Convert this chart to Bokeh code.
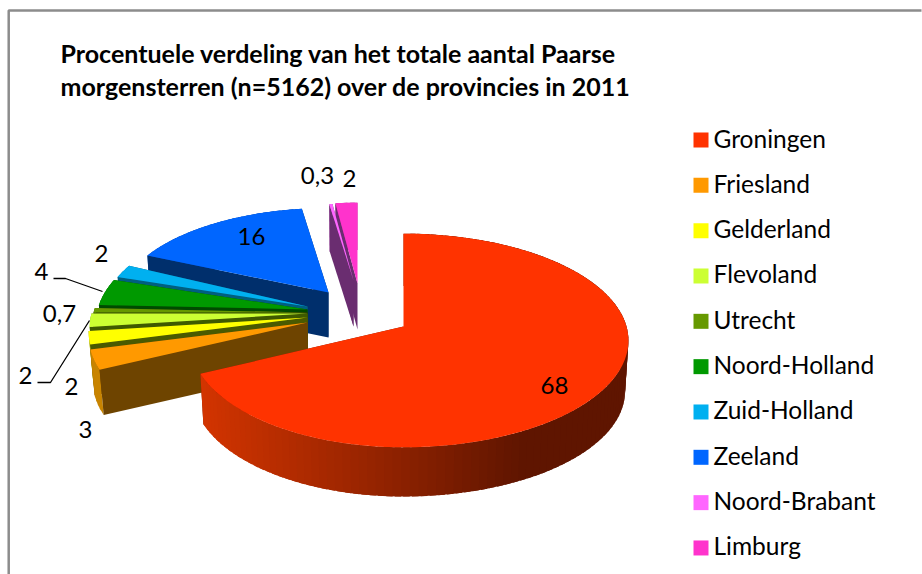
import numpy as np
from bokeh.plotting import figure
from bokeh.models import Range1d
from bokeh.core.properties import value
from bokeh.embed import file_html
from bokeh.resources import INLINE

provinces = ["Groningen", "Friesland", "Gelderland", "Flevoland", "Utrecht",
             "Noord-Holland", "Zuid-Holland", "Zeeland", "Noord-Brabant", "Limburg"]
percent = [68, 3, 2, 2, 0.7, 4, 2, 16, 0.3, 2]
value_labels = ["68", "3", "2", "2", "0,7", "4", "2", "16", "0,3", "2"]
title_lines = ["Procentuele verdeling van het totale aantal Paarse",
               "morgensterren (n=5162) over de provincies in 2011"]
top_colors = ["#ff3300", "#ff9900", "#ffff00", "#ccff33", "#669900",
              "#009900", "#00b0f0", "#0066ff", "#ff66ff", "#ff33cc"]
cut_colors = ["#7a1c00", "#6e4400", "#4a5a00", "#3f5a00", "#2a4000",
              "#004a00", "#005f80", "#002f6c", "#6a2d70", "#6a2d70"]
rim_colors = ["#c03000", "#c88400", "#b8b800", "#94bb25", "#4c7000",
              "#006a00", "#0080b0", "#004ab8", "#b84ab8", "#b82594"]

# Layout of the exploded 3D pie on the page (pixels)
OX, OY, W, H = 0, 0, 922, 574
apex_x = [403, 307, 307, 307, 307, 307, 307, 328, 353, 357]
apex_y = [326, 322, 317, 313, 312, 309, 306, 292, 280, 283]
rx_left = [212, 217, 217, 216, 214, 210, 206, 209, 190, 199]
rx_right = [223] * 10
y_scale = [1, 1, 1, 1, 1, 1, 1, 0.91, 0.83, 0.87]
depth = [51, 46, 46, 46, 46, 46, 46, 45, 46, 46]
bottom_scale = [0.985, 0.98, 0.98, 0.98, 0.98, 0.98, 0.98, 0.985, 0.985, 0.985]
K = 0.131
RY = 105
draw_order = [9, 8, 7, 6, 5, 4, 3, 2, 1, 0]

label_x = [554, 85, 71, 25, 59, 41, 101, 251, 317, 349]
label_y = [385, 429, 386, 375, 313, 271, 253, 236, 175, 178]
leaders = [([53, 65, 102], [278, 278, 291]), ([37, 50, 89], [382, 382, 320])]
legend_x, legend_y0, legend_step = 693, 139.5, 45.33
FONT = "Lato"

edges = np.cumsum([0] + percent) / sum(percent) * 2 * np.pi


def project(i, th, outer=1.0, drop=0.0):
    th = np.asarray(th, dtype=float)
    u, v = np.sin(th), np.cos(th)
    d = 1 + K * v
    rx = np.where(u > 0, rx_right[i], rx_left[i])
    x = apex_x[i] + rx * u / d * outer
    y = apex_y[i] - RY * y_scale[i] * v / d * outer + drop
    return x, y


def lerp_hex(a, b, t):
    ca = [int(a[j:j + 2], 16) for j in (1, 3, 5)]
    cb = [int(b[j:j + 2], 16) for j in (1, 3, 5)]
    return "#%02x%02x%02x" % tuple(round(p + (q - p) * t) for p, q in zip(ca, cb))


xs, ys, cols = [], [], []


def add(px, py, c):
    xs.append(list(map(float, px)))
    ys.append(list(map(float, py)))
    cols.append(c)


def add_cut(i, t):
    ox, oy = project(i, t)
    bx, by = project(i, t, bottom_scale[i], depth[i])
    add([apex_x[i], float(ox), float(bx), apex_x[i]],
        [apex_y[i], float(oy), float(by), apex_y[i] + depth[i]], cut_colors[i])


for i in draw_order:
    t0, t1 = edges[i], edges[i + 1]
    dz, bs = depth[i], bottom_scale[i]
    # the cut face at the slice's end looks away: it goes behind the rim
    add_cut(i, t1)
    steps = max(2, int((t1 - t0) / np.radians(2)))
    th = np.linspace(t0, t1, steps + 1)
    for a, b in zip(th[:-1], th[1:]):
        # each strip overlaps the next one, so that no seams show in the rim
        b2 = min(b + np.radians(1.5), t1)
        x1, y1 = project(i, [a, b2])
        x2, y2 = project(i, [b2, a], bs, dz)
        c = rim_colors[i]
        if i == 0:
            f = float(np.clip((x1.mean() - 200) / 320, 0, 1))
            c = lerp_hex("#d23400", "#5f1500", f)
        add(list(x1) + list(x2), list(y1) + list(y2), c)
    # the cut face at the slice's start looks at the viewer: it goes over the rim
    add_cut(i, t0)
    th = np.linspace(t0, t1, max(3, int((t1 - t0) / np.radians(1))))
    ox, oy = project(i, th)
    add([apex_x[i]] + list(ox), [apex_y[i]] + list(oy), top_colors[i])

p = figure(width=W, height=H, output_backend="svg", toolbar_location=None,
           x_range=Range1d(OX, OX + W), y_range=Range1d(OY + H, OY),
           min_border=0, outline_line_color=None)
p.axis.visible = False
p.grid.visible = False

p.line([8.2, 8.2, 921], [574, 10, 10], line_color="#8c8c8c", line_width=2.5)
p.patches(xs, ys, fill_color=cols, line_color=None)

for lx, ly in leaders:
    p.line(lx, ly, line_color="black", line_width=1.3)

p.text(label_x, label_y, text=value_labels, text_font=value(FONT), text_font_size="24px",
       text_color="#000000", text_align="center", text_baseline="middle")

p.text([60, 60], [52, 85.5], text=title_lines, text_font=value(FONT), text_font_size="25px",
       text_font_style="bold", text_color="#000000", text_align="left", text_baseline="middle")

ly = [legend_y0 + k * legend_step for k in range(len(provinces))]
p.rect([legend_x + 7.5] * len(provinces), ly, width=15, height=15,
       fill_color=top_colors, line_color=None)
p.text([legend_x + 20] * len(provinces), [v - 2 for v in ly], text=provinces, text_font=value(FONT),
       text_font_size="24.5px", text_color="#000000", text_align="left", text_baseline="middle")

open("out.html", "w").write(file_html(p, INLINE))
